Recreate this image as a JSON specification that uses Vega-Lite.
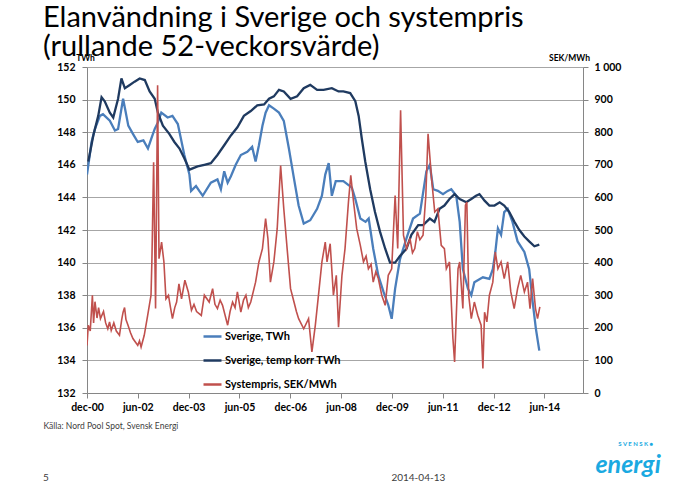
{
  "$schema": "https://vega.github.io/schema/vega-lite/v6.json",
  "autosize": "none",
  "width": 496,
  "height": 326,
  "padding": {"left": 87, "top": 67, "right": 117, "bottom": 102},
  "background": "white",
  "config": {
    "font": "Lato",
    "view": {"stroke": null},
    "axis": {"labelFont": "Lato", "labelFontWeight": "bold", "labelFontSize": 10.5, "labelColor": "#000000", "domainColor": "#868686", "tickColor": "#868686", "tickSize": 5, "gridColor": "#a6a6a6", "titleFont": "Lato", "titleFontWeight": "bold", "titleColor": "#000000", "labelOverlap": false},
    "legend": {"labelFont": "Lato", "labelFontWeight": "bold", "labelFontSize": 11, "labelColor": "#000000"}
  },
  "title": {
    "text": ["Elanvändning i Sverige och systempris", "(rullande 52-veckorsvärde)"],
    "anchor": "start",
    "frame": "group",
    "dx": -44,
    "dy": 13,
    "fontSize": 29,
    "font": "Lato",
    "fontWeight": "normal",
    "lineHeight": 29.5,
    "color": "#000000",
    "offset": 4
  },
  "datasets": {
    "twh": [
      {"date": "2000-12-01", "series": "Sverige, TWh", "value": 145.4},
      {"date": "2001-01-19", "series": "Sverige, TWh", "value": 147.4},
      {"date": "2001-02-25", "series": "Sverige, TWh", "value": 148.2},
      {"date": "2001-04-19", "series": "Sverige, TWh", "value": 149.0},
      {"date": "2001-05-22", "series": "Sverige, TWh", "value": 149.1},
      {"date": "2001-08-04", "series": "Sverige, TWh", "value": 148.7},
      {"date": "2001-09-28", "series": "Sverige, TWh", "value": 148.1},
      {"date": "2001-11-01", "series": "Sverige, TWh", "value": 148.2},
      {"date": "2001-12-25", "series": "Sverige, TWh", "value": 150.05},
      {"date": "2002-01-13", "series": "Sverige, TWh", "value": 149.5},
      {"date": "2002-02-19", "series": "Sverige, TWh", "value": 148.4},
      {"date": "2002-04-10", "series": "Sverige, TWh", "value": 147.9},
      {"date": "2002-06-01", "series": "Sverige, TWh", "value": 147.4},
      {"date": "2002-08-01", "series": "Sverige, TWh", "value": 147.5},
      {"date": "2002-09-19", "series": "Sverige, TWh", "value": 147.0},
      {"date": "2002-10-25", "series": "Sverige, TWh", "value": 147.6},
      {"date": "2002-12-01", "series": "Sverige, TWh", "value": 148.2},
      {"date": "2003-01-04", "series": "Sverige, TWh", "value": 148.6},
      {"date": "2003-02-10", "series": "Sverige, TWh", "value": 149.2},
      {"date": "2003-04-19", "series": "Sverige, TWh", "value": 148.9},
      {"date": "2003-06-10", "series": "Sverige, TWh", "value": 149.0},
      {"date": "2003-08-07", "series": "Sverige, TWh", "value": 148.5},
      {"date": "2003-10-16", "series": "Sverige, TWh", "value": 146.6},
      {"date": "2003-12-10", "series": "Sverige, TWh", "value": 145.4},
      {"date": "2003-12-28", "series": "Sverige, TWh", "value": 144.4},
      {"date": "2004-02-19", "series": "Sverige, TWh", "value": 144.7},
      {"date": "2004-03-25", "series": "Sverige, TWh", "value": 144.4},
      {"date": "2004-05-01", "series": "Sverige, TWh", "value": 144.1},
      {"date": "2004-07-28", "series": "Sverige, TWh", "value": 144.9},
      {"date": "2004-10-07", "series": "Sverige, TWh", "value": 145.1},
      {"date": "2004-11-13", "series": "Sverige, TWh", "value": 144.5},
      {"date": "2004-12-19", "series": "Sverige, TWh", "value": 145.6},
      {"date": "2005-01-25", "series": "Sverige, TWh", "value": 144.9},
      {"date": "2005-03-01", "series": "Sverige, TWh", "value": 145.3},
      {"date": "2005-04-22", "series": "Sverige, TWh", "value": 146.0},
      {"date": "2005-06-16", "series": "Sverige, TWh", "value": 146.6},
      {"date": "2005-08-25", "series": "Sverige, TWh", "value": 146.8},
      {"date": "2005-10-16", "series": "Sverige, TWh", "value": 147.1},
      {"date": "2005-11-22", "series": "Sverige, TWh", "value": 146.2},
      {"date": "2005-12-28", "series": "Sverige, TWh", "value": 147.2},
      {"date": "2006-02-04", "series": "Sverige, TWh", "value": 148.4},
      {"date": "2006-03-10", "series": "Sverige, TWh", "value": 149.2},
      {"date": "2006-04-16", "series": "Sverige, TWh", "value": 149.65},
      {"date": "2006-06-07", "series": "Sverige, TWh", "value": 149.45},
      {"date": "2006-08-01", "series": "Sverige, TWh", "value": 149.2},
      {"date": "2006-09-22", "series": "Sverige, TWh", "value": 148.7},
      {"date": "2006-11-16", "series": "Sverige, TWh", "value": 147.0},
      {"date": "2007-01-10", "series": "Sverige, TWh", "value": 145.15},
      {"date": "2007-03-01", "series": "Sverige, TWh", "value": 143.5},
      {"date": "2007-04-25", "series": "Sverige, TWh", "value": 142.4},
      {"date": "2007-07-04", "series": "Sverige, TWh", "value": 142.6},
      {"date": "2007-09-16", "series": "Sverige, TWh", "value": 143.3},
      {"date": "2007-11-07", "series": "Sverige, TWh", "value": 144.1},
      {"date": "2007-12-13", "series": "Sverige, TWh", "value": 145.4},
      {"date": "2008-01-19", "series": "Sverige, TWh", "value": 146.1},
      {"date": "2008-02-22", "series": "Sverige, TWh", "value": 144.1},
      {"date": "2008-04-04", "series": "Sverige, TWh", "value": 145.0},
      {"date": "2008-06-25", "series": "Sverige, TWh", "value": 145.0},
      {"date": "2008-09-25", "series": "Sverige, TWh", "value": 144.6},
      {"date": "2008-11-01", "series": "Sverige, TWh", "value": 143.9},
      {"date": "2008-12-25", "series": "Sverige, TWh", "value": 142.7},
      {"date": "2009-02-19", "series": "Sverige, TWh", "value": 142.5},
      {"date": "2009-03-25", "series": "Sverige, TWh", "value": 142.7},
      {"date": "2009-05-13", "series": "Sverige, TWh", "value": 140.85},
      {"date": "2009-07-07", "series": "Sverige, TWh", "value": 139.2},
      {"date": "2009-09-01", "series": "Sverige, TWh", "value": 138.2},
      {"date": "2009-10-22", "series": "Sverige, TWh", "value": 137.4},
      {"date": "2009-11-28", "series": "Sverige, TWh", "value": 136.55},
      {"date": "2010-01-04", "series": "Sverige, TWh", "value": 138.4},
      {"date": "2010-02-25", "series": "Sverige, TWh", "value": 140.2},
      {"date": "2010-05-07", "series": "Sverige, TWh", "value": 141.5},
      {"date": "2010-07-16", "series": "Sverige, TWh", "value": 142.7},
      {"date": "2010-09-28", "series": "Sverige, TWh", "value": 143.0},
      {"date": "2010-12-07", "series": "Sverige, TWh", "value": 145.6},
      {"date": "2011-01-13", "series": "Sverige, TWh", "value": 146.0},
      {"date": "2011-02-19", "series": "Sverige, TWh", "value": 144.5},
      {"date": "2011-04-10", "series": "Sverige, TWh", "value": 144.4},
      {"date": "2011-06-04", "series": "Sverige, TWh", "value": 144.2},
      {"date": "2011-07-25", "series": "Sverige, TWh", "value": 144.4},
      {"date": "2011-09-01", "series": "Sverige, TWh", "value": 144.5},
      {"date": "2011-10-25", "series": "Sverige, TWh", "value": 144.1},
      {"date": "2011-12-01", "series": "Sverige, TWh", "value": 142.5},
      {"date": "2012-01-04", "series": "Sverige, TWh", "value": 139.6},
      {"date": "2012-02-28", "series": "Sverige, TWh", "value": 138.4},
      {"date": "2012-04-04", "series": "Sverige, TWh", "value": 138.0},
      {"date": "2012-05-07", "series": "Sverige, TWh", "value": 138.8},
      {"date": "2012-08-07", "series": "Sverige, TWh", "value": 139.1},
      {"date": "2012-10-16", "series": "Sverige, TWh", "value": 139.0},
      {"date": "2012-11-22", "series": "Sverige, TWh", "value": 139.6},
      {"date": "2012-12-19", "series": "Sverige, TWh", "value": 140.65},
      {"date": "2013-01-16", "series": "Sverige, TWh", "value": 142.1},
      {"date": "2013-02-19", "series": "Sverige, TWh", "value": 141.7},
      {"date": "2013-03-25", "series": "Sverige, TWh", "value": 143.1},
      {"date": "2013-05-01", "series": "Sverige, TWh", "value": 143.3},
      {"date": "2013-06-22", "series": "Sverige, TWh", "value": 142.5},
      {"date": "2013-08-16", "series": "Sverige, TWh", "value": 141.3},
      {"date": "2013-10-28", "series": "Sverige, TWh", "value": 140.65},
      {"date": "2013-12-19", "series": "Sverige, TWh", "value": 139.6},
      {"date": "2014-01-25", "series": "Sverige, TWh", "value": 137.6},
      {"date": "2014-03-01", "series": "Sverige, TWh", "value": 135.95},
      {"date": "2014-04-07", "series": "Sverige, TWh", "value": 134.6},

      {"date": "2000-12-15", "series": "Sverige, temp korr TWh", "value": 146.2},
      {"date": "2001-02-07", "series": "Sverige, temp korr TWh", "value": 147.8},
      {"date": "2001-04-01", "series": "Sverige, temp korr TWh", "value": 149.0},
      {"date": "2001-05-07", "series": "Sverige, temp korr TWh", "value": 150.15},
      {"date": "2001-06-10", "series": "Sverige, temp korr TWh", "value": 149.9},
      {"date": "2001-08-04", "series": "Sverige, temp korr TWh", "value": 149.2},
      {"date": "2001-09-10", "series": "Sverige, temp korr TWh", "value": 148.9},
      {"date": "2001-11-01", "series": "Sverige, temp korr TWh", "value": 150.05},
      {"date": "2001-12-07", "series": "Sverige, temp korr TWh", "value": 151.3},
      {"date": "2002-01-13", "series": "Sverige, temp korr TWh", "value": 150.7},
      {"date": "2002-03-07", "series": "Sverige, temp korr TWh", "value": 150.9},
      {"date": "2002-04-28", "series": "Sverige, temp korr TWh", "value": 151.1},
      {"date": "2002-06-22", "series": "Sverige, temp korr TWh", "value": 151.3},
      {"date": "2002-08-16", "series": "Sverige, temp korr TWh", "value": 151.2},
      {"date": "2002-10-07", "series": "Sverige, temp korr TWh", "value": 150.5},
      {"date": "2002-12-01", "series": "Sverige, temp korr TWh", "value": 150.05},
      {"date": "2003-01-04", "series": "Sverige, temp korr TWh", "value": 149.2},
      {"date": "2003-02-27", "series": "Sverige, temp korr TWh", "value": 148.4},
      {"date": "2003-05-07", "series": "Sverige, temp korr TWh", "value": 147.9},
      {"date": "2003-07-01", "series": "Sverige, temp korr TWh", "value": 147.4},
      {"date": "2003-08-25", "series": "Sverige, temp korr TWh", "value": 147.0},
      {"date": "2003-10-16", "series": "Sverige, temp korr TWh", "value": 146.4},
      {"date": "2003-12-10", "series": "Sverige, temp korr TWh", "value": 145.7},
      {"date": "2004-03-07", "series": "Sverige, temp korr TWh", "value": 145.9},
      {"date": "2004-05-19", "series": "Sverige, temp korr TWh", "value": 146.0},
      {"date": "2004-07-28", "series": "Sverige, temp korr TWh", "value": 146.1},
      {"date": "2004-10-07", "series": "Sverige, temp korr TWh", "value": 146.6},
      {"date": "2004-12-19", "series": "Sverige, temp korr TWh", "value": 147.2},
      {"date": "2005-03-01", "series": "Sverige, temp korr TWh", "value": 147.8},
      {"date": "2005-05-10", "series": "Sverige, temp korr TWh", "value": 148.3},
      {"date": "2005-07-19", "series": "Sverige, temp korr TWh", "value": 149.0},
      {"date": "2005-10-01", "series": "Sverige, temp korr TWh", "value": 149.3},
      {"date": "2005-12-10", "series": "Sverige, temp korr TWh", "value": 149.65},
      {"date": "2006-02-22", "series": "Sverige, temp korr TWh", "value": 149.7},
      {"date": "2006-04-16", "series": "Sverige, temp korr TWh", "value": 150.05},
      {"date": "2006-06-07", "series": "Sverige, temp korr TWh", "value": 150.2},
      {"date": "2006-08-01", "series": "Sverige, temp korr TWh", "value": 150.6},
      {"date": "2006-09-22", "series": "Sverige, temp korr TWh", "value": 150.5},
      {"date": "2006-12-04", "series": "Sverige, temp korr TWh", "value": 150.05},
      {"date": "2007-02-13", "series": "Sverige, temp korr TWh", "value": 150.2},
      {"date": "2007-04-25", "series": "Sverige, temp korr TWh", "value": 150.7},
      {"date": "2007-07-04", "series": "Sverige, temp korr TWh", "value": 150.9},
      {"date": "2007-09-16", "series": "Sverige, temp korr TWh", "value": 150.6},
      {"date": "2007-11-25", "series": "Sverige, temp korr TWh", "value": 150.6},
      {"date": "2008-02-22", "series": "Sverige, temp korr TWh", "value": 150.7},
      {"date": "2008-05-04", "series": "Sverige, temp korr TWh", "value": 150.5},
      {"date": "2008-06-25", "series": "Sverige, temp korr TWh", "value": 150.5},
      {"date": "2008-09-07", "series": "Sverige, temp korr TWh", "value": 150.4},
      {"date": "2008-11-01", "series": "Sverige, temp korr TWh", "value": 149.9},
      {"date": "2008-12-07", "series": "Sverige, temp korr TWh", "value": 149.0},
      {"date": "2009-01-10", "series": "Sverige, temp korr TWh", "value": 147.6},
      {"date": "2009-02-16", "series": "Sverige, temp korr TWh", "value": 146.2},
      {"date": "2009-04-10", "series": "Sverige, temp korr TWh", "value": 144.5},
      {"date": "2009-06-01", "series": "Sverige, temp korr TWh", "value": 143.1},
      {"date": "2009-07-25", "series": "Sverige, temp korr TWh", "value": 141.9},
      {"date": "2009-09-19", "series": "Sverige, temp korr TWh", "value": 140.85},
      {"date": "2009-11-10", "series": "Sverige, temp korr TWh", "value": 140.0},
      {"date": "2010-01-04", "series": "Sverige, temp korr TWh", "value": 140.0},
      {"date": "2010-02-25", "series": "Sverige, temp korr TWh", "value": 140.4},
      {"date": "2010-05-07", "series": "Sverige, temp korr TWh", "value": 140.85},
      {"date": "2010-06-28", "series": "Sverige, temp korr TWh", "value": 141.7},
      {"date": "2010-09-10", "series": "Sverige, temp korr TWh", "value": 142.3},
      {"date": "2010-11-01", "series": "Sverige, temp korr TWh", "value": 142.3},
      {"date": "2011-01-13", "series": "Sverige, temp korr TWh", "value": 142.7},
      {"date": "2011-03-04", "series": "Sverige, temp korr TWh", "value": 142.5},
      {"date": "2011-04-28", "series": "Sverige, temp korr TWh", "value": 143.3},
      {"date": "2011-06-19", "series": "Sverige, temp korr TWh", "value": 143.5},
      {"date": "2011-08-13", "series": "Sverige, temp korr TWh", "value": 143.9},
      {"date": "2011-10-07", "series": "Sverige, temp korr TWh", "value": 144.2},
      {"date": "2011-12-01", "series": "Sverige, temp korr TWh", "value": 143.9},
      {"date": "2012-02-10", "series": "Sverige, temp korr TWh", "value": 143.7},
      {"date": "2012-04-04", "series": "Sverige, temp korr TWh", "value": 143.9},
      {"date": "2012-05-25", "series": "Sverige, temp korr TWh", "value": 144.1},
      {"date": "2012-07-01", "series": "Sverige, temp korr TWh", "value": 144.2},
      {"date": "2012-08-25", "series": "Sverige, temp korr TWh", "value": 143.8},
      {"date": "2012-10-16", "series": "Sverige, temp korr TWh", "value": 143.5},
      {"date": "2012-12-10", "series": "Sverige, temp korr TWh", "value": 143.5},
      {"date": "2013-02-04", "series": "Sverige, temp korr TWh", "value": 143.7},
      {"date": "2013-03-25", "series": "Sverige, temp korr TWh", "value": 143.5},
      {"date": "2013-05-19", "series": "Sverige, temp korr TWh", "value": 143.1},
      {"date": "2013-07-13", "series": "Sverige, temp korr TWh", "value": 142.5},
      {"date": "2013-09-04", "series": "Sverige, temp korr TWh", "value": 142.0},
      {"date": "2013-10-28", "series": "Sverige, temp korr TWh", "value": 141.6},
      {"date": "2013-12-19", "series": "Sverige, temp korr TWh", "value": 141.3},
      {"date": "2014-02-13", "series": "Sverige, temp korr TWh", "value": 141.0},
      {"date": "2014-04-07", "series": "Sverige, temp korr TWh", "value": 141.1}
    ],
    "pris": [
      {"date": "2000-12-01", "series": "Systempris, SEK/MWh", "value": 146},
      {"date": "2000-12-15", "series": "Systempris, SEK/MWh", "value": 208},
      {"date": "2001-01-05", "series": "Systempris, SEK/MWh", "value": 190},
      {"date": "2001-01-28", "series": "Systempris, SEK/MWh", "value": 300},
      {"date": "2001-02-10", "series": "Systempris, SEK/MWh", "value": 215},
      {"date": "2001-02-25", "series": "Systempris, SEK/MWh", "value": 280},
      {"date": "2001-03-19", "series": "Systempris, SEK/MWh", "value": 230},
      {"date": "2001-04-05", "series": "Systempris, SEK/MWh", "value": 262},
      {"date": "2001-04-25", "series": "Systempris, SEK/MWh", "value": 228},
      {"date": "2001-05-28", "series": "Systempris, SEK/MWh", "value": 250},
      {"date": "2001-06-20", "series": "Systempris, SEK/MWh", "value": 215},
      {"date": "2001-07-13", "series": "Systempris, SEK/MWh", "value": 197},
      {"date": "2001-08-01", "series": "Systempris, SEK/MWh", "value": 218},
      {"date": "2001-08-19", "series": "Systempris, SEK/MWh", "value": 192},
      {"date": "2001-09-16", "series": "Systempris, SEK/MWh", "value": 215},
      {"date": "2001-10-13", "series": "Systempris, SEK/MWh", "value": 190},
      {"date": "2001-11-16", "series": "Systempris, SEK/MWh", "value": 177},
      {"date": "2001-12-10", "series": "Systempris, SEK/MWh", "value": 225},
      {"date": "2001-12-25", "series": "Systempris, SEK/MWh", "value": 248},
      {"date": "2002-01-10", "series": "Systempris, SEK/MWh", "value": 262},
      {"date": "2002-01-25", "series": "Systempris, SEK/MWh", "value": 225},
      {"date": "2002-02-16", "series": "Systempris, SEK/MWh", "value": 208},
      {"date": "2002-03-15", "series": "Systempris, SEK/MWh", "value": 185},
      {"date": "2002-04-10", "series": "Systempris, SEK/MWh", "value": 167},
      {"date": "2002-05-10", "series": "Systempris, SEK/MWh", "value": 155},
      {"date": "2002-06-01", "series": "Systempris, SEK/MWh", "value": 146},
      {"date": "2002-06-20", "series": "Systempris, SEK/MWh", "value": 160},
      {"date": "2002-07-07", "series": "Systempris, SEK/MWh", "value": 141},
      {"date": "2002-08-10", "series": "Systempris, SEK/MWh", "value": 177},
      {"date": "2002-09-16", "series": "Systempris, SEK/MWh", "value": 238},
      {"date": "2002-10-22", "series": "Systempris, SEK/MWh", "value": 300},
      {"date": "2002-11-01", "series": "Systempris, SEK/MWh", "value": 412},
      {"date": "2002-11-19", "series": "Systempris, SEK/MWh", "value": 708},
      {"date": "2002-12-10", "series": "Systempris, SEK/MWh", "value": 259},
      {"date": "2003-01-01", "series": "Systempris, SEK/MWh", "value": 944},
      {"date": "2003-01-16", "series": "Systempris, SEK/MWh", "value": 412},
      {"date": "2003-02-13", "series": "Systempris, SEK/MWh", "value": 463},
      {"date": "2003-03-10", "series": "Systempris, SEK/MWh", "value": 402},
      {"date": "2003-04-01", "series": "Systempris, SEK/MWh", "value": 289},
      {"date": "2003-04-28", "series": "Systempris, SEK/MWh", "value": 300},
      {"date": "2003-05-20", "series": "Systempris, SEK/MWh", "value": 262},
      {"date": "2003-06-10", "series": "Systempris, SEK/MWh", "value": 228},
      {"date": "2003-07-05", "series": "Systempris, SEK/MWh", "value": 262},
      {"date": "2003-07-25", "series": "Systempris, SEK/MWh", "value": 279},
      {"date": "2003-08-19", "series": "Systempris, SEK/MWh", "value": 335},
      {"date": "2003-09-16", "series": "Systempris, SEK/MWh", "value": 289},
      {"date": "2003-10-22", "series": "Systempris, SEK/MWh", "value": 346},
      {"date": "2003-11-28", "series": "Systempris, SEK/MWh", "value": 310},
      {"date": "2004-01-01", "series": "Systempris, SEK/MWh", "value": 254},
      {"date": "2004-01-28", "series": "Systempris, SEK/MWh", "value": 272},
      {"date": "2004-02-25", "series": "Systempris, SEK/MWh", "value": 250},
      {"date": "2004-04-16", "series": "Systempris, SEK/MWh", "value": 238},
      {"date": "2004-05-19", "series": "Systempris, SEK/MWh", "value": 300},
      {"date": "2004-07-10", "series": "Systempris, SEK/MWh", "value": 279},
      {"date": "2004-08-16", "series": "Systempris, SEK/MWh", "value": 320},
      {"date": "2004-09-10", "series": "Systempris, SEK/MWh", "value": 272},
      {"date": "2004-10-07", "series": "Systempris, SEK/MWh", "value": 259},
      {"date": "2004-11-05", "series": "Systempris, SEK/MWh", "value": 285},
      {"date": "2004-12-01", "series": "Systempris, SEK/MWh", "value": 269},
      {"date": "2005-01-25", "series": "Systempris, SEK/MWh", "value": 208},
      {"date": "2005-02-20", "series": "Systempris, SEK/MWh", "value": 250},
      {"date": "2005-03-19", "series": "Systempris, SEK/MWh", "value": 279},
      {"date": "2005-04-15", "series": "Systempris, SEK/MWh", "value": 262},
      {"date": "2005-05-10", "series": "Systempris, SEK/MWh", "value": 310},
      {"date": "2005-06-16", "series": "Systempris, SEK/MWh", "value": 248},
      {"date": "2005-07-15", "series": "Systempris, SEK/MWh", "value": 285},
      {"date": "2005-08-10", "series": "Systempris, SEK/MWh", "value": 300},
      {"date": "2005-09-05", "series": "Systempris, SEK/MWh", "value": 262},
      {"date": "2005-10-01", "series": "Systempris, SEK/MWh", "value": 279},
      {"date": "2005-11-22", "series": "Systempris, SEK/MWh", "value": 340},
      {"date": "2005-12-28", "series": "Systempris, SEK/MWh", "value": 402},
      {"date": "2006-02-04", "series": "Systempris, SEK/MWh", "value": 443},
      {"date": "2006-03-10", "series": "Systempris, SEK/MWh", "value": 535},
      {"date": "2006-04-04", "series": "Systempris, SEK/MWh", "value": 474},
      {"date": "2006-05-01", "series": "Systempris, SEK/MWh", "value": 340},
      {"date": "2006-06-07", "series": "Systempris, SEK/MWh", "value": 402},
      {"date": "2006-07-13", "series": "Systempris, SEK/MWh", "value": 504},
      {"date": "2006-08-19", "series": "Systempris, SEK/MWh", "value": 698},
      {"date": "2006-09-22", "series": "Systempris, SEK/MWh", "value": 565},
      {"date": "2006-10-28", "series": "Systempris, SEK/MWh", "value": 443},
      {"date": "2006-12-04", "series": "Systempris, SEK/MWh", "value": 320},
      {"date": "2007-01-10", "series": "Systempris, SEK/MWh", "value": 279},
      {"date": "2007-02-05", "series": "Systempris, SEK/MWh", "value": 250},
      {"date": "2007-03-01", "series": "Systempris, SEK/MWh", "value": 228},
      {"date": "2007-04-25", "series": "Systempris, SEK/MWh", "value": 197},
      {"date": "2007-06-16", "series": "Systempris, SEK/MWh", "value": 228},
      {"date": "2007-07-22", "series": "Systempris, SEK/MWh", "value": 126},
      {"date": "2007-08-28", "series": "Systempris, SEK/MWh", "value": 208},
      {"date": "2007-10-01", "series": "Systempris, SEK/MWh", "value": 300},
      {"date": "2007-11-07", "series": "Systempris, SEK/MWh", "value": 402},
      {"date": "2007-12-13", "series": "Systempris, SEK/MWh", "value": 463},
      {"date": "2008-01-01", "series": "Systempris, SEK/MWh", "value": 402},
      {"date": "2008-02-04", "series": "Systempris, SEK/MWh", "value": 458},
      {"date": "2008-03-10", "series": "Systempris, SEK/MWh", "value": 300},
      {"date": "2008-04-10", "series": "Systempris, SEK/MWh", "value": 361},
      {"date": "2008-05-04", "series": "Systempris, SEK/MWh", "value": 202},
      {"date": "2008-06-10", "series": "Systempris, SEK/MWh", "value": 361},
      {"date": "2008-07-13", "series": "Systempris, SEK/MWh", "value": 443},
      {"date": "2008-08-19", "series": "Systempris, SEK/MWh", "value": 586},
      {"date": "2008-09-13", "series": "Systempris, SEK/MWh", "value": 668},
      {"date": "2008-10-13", "series": "Systempris, SEK/MWh", "value": 586},
      {"date": "2008-11-16", "series": "Systempris, SEK/MWh", "value": 504},
      {"date": "2008-12-25", "series": "Systempris, SEK/MWh", "value": 453},
      {"date": "2009-01-28", "series": "Systempris, SEK/MWh", "value": 402},
      {"date": "2009-02-25", "series": "Systempris, SEK/MWh", "value": 420},
      {"date": "2009-03-22", "series": "Systempris, SEK/MWh", "value": 381},
      {"date": "2009-04-20", "series": "Systempris, SEK/MWh", "value": 395},
      {"date": "2009-05-13", "series": "Systempris, SEK/MWh", "value": 340},
      {"date": "2009-06-10", "series": "Systempris, SEK/MWh", "value": 372},
      {"date": "2009-07-07", "series": "Systempris, SEK/MWh", "value": 351},
      {"date": "2009-08-13", "series": "Systempris, SEK/MWh", "value": 300},
      {"date": "2009-09-19", "series": "Systempris, SEK/MWh", "value": 269},
      {"date": "2009-10-22", "series": "Systempris, SEK/MWh", "value": 361},
      {"date": "2009-11-28", "series": "Systempris, SEK/MWh", "value": 381},
      {"date": "2010-01-04", "series": "Systempris, SEK/MWh", "value": 606},
      {"date": "2010-02-01", "series": "Systempris, SEK/MWh", "value": 443},
      {"date": "2010-03-04", "series": "Systempris, SEK/MWh", "value": 867},
      {"date": "2010-04-04", "series": "Systempris, SEK/MWh", "value": 484},
      {"date": "2010-05-07", "series": "Systempris, SEK/MWh", "value": 443},
      {"date": "2010-06-13", "series": "Systempris, SEK/MWh", "value": 474},
      {"date": "2010-07-10", "series": "Systempris, SEK/MWh", "value": 430},
      {"date": "2010-08-04", "series": "Systempris, SEK/MWh", "value": 443},
      {"date": "2010-09-01", "series": "Systempris, SEK/MWh", "value": 495},
      {"date": "2010-09-28", "series": "Systempris, SEK/MWh", "value": 470},
      {"date": "2010-11-01", "series": "Systempris, SEK/MWh", "value": 484},
      {"date": "2010-12-01", "series": "Systempris, SEK/MWh", "value": 606},
      {"date": "2010-12-25", "series": "Systempris, SEK/MWh", "value": 795},
      {"date": "2011-02-01", "series": "Systempris, SEK/MWh", "value": 657},
      {"date": "2011-03-07", "series": "Systempris, SEK/MWh", "value": 555},
      {"date": "2011-04-10", "series": "Systempris, SEK/MWh", "value": 565},
      {"date": "2011-05-16", "series": "Systempris, SEK/MWh", "value": 453},
      {"date": "2011-06-19", "series": "Systempris, SEK/MWh", "value": 443},
      {"date": "2011-07-10", "series": "Systempris, SEK/MWh", "value": 381},
      {"date": "2011-08-13", "series": "Systempris, SEK/MWh", "value": 402},
      {"date": "2011-09-19", "series": "Systempris, SEK/MWh", "value": 167},
      {"date": "2011-10-07", "series": "Systempris, SEK/MWh", "value": 95},
      {"date": "2011-11-13", "series": "Systempris, SEK/MWh", "value": 381},
      {"date": "2011-12-01", "series": "Systempris, SEK/MWh", "value": 402},
      {"date": "2012-01-04", "series": "Systempris, SEK/MWh", "value": 259},
      {"date": "2012-02-01", "series": "Systempris, SEK/MWh", "value": 576},
      {"date": "2012-02-16", "series": "Systempris, SEK/MWh", "value": 586},
      {"date": "2012-03-07", "series": "Systempris, SEK/MWh", "value": 300},
      {"date": "2012-04-04", "series": "Systempris, SEK/MWh", "value": 228},
      {"date": "2012-05-07", "series": "Systempris, SEK/MWh", "value": 279},
      {"date": "2012-06-13", "series": "Systempris, SEK/MWh", "value": 238},
      {"date": "2012-07-19", "series": "Systempris, SEK/MWh", "value": 208},
      {"date": "2012-08-07", "series": "Systempris, SEK/MWh", "value": 75},
      {"date": "2012-08-25", "series": "Systempris, SEK/MWh", "value": 248},
      {"date": "2012-09-19", "series": "Systempris, SEK/MWh", "value": 218},
      {"date": "2012-10-16", "series": "Systempris, SEK/MWh", "value": 300},
      {"date": "2012-11-22", "series": "Systempris, SEK/MWh", "value": 340},
      {"date": "2012-12-19", "series": "Systempris, SEK/MWh", "value": 432},
      {"date": "2013-01-16", "series": "Systempris, SEK/MWh", "value": 381},
      {"date": "2013-02-19", "series": "Systempris, SEK/MWh", "value": 402},
      {"date": "2013-03-25", "series": "Systempris, SEK/MWh", "value": 351},
      {"date": "2013-05-01", "series": "Systempris, SEK/MWh", "value": 402},
      {"date": "2013-06-04", "series": "Systempris, SEK/MWh", "value": 310},
      {"date": "2013-07-10", "series": "Systempris, SEK/MWh", "value": 259},
      {"date": "2013-08-16", "series": "Systempris, SEK/MWh", "value": 320},
      {"date": "2013-09-19", "series": "Systempris, SEK/MWh", "value": 361},
      {"date": "2013-10-28", "series": "Systempris, SEK/MWh", "value": 310},
      {"date": "2013-12-01", "series": "Systempris, SEK/MWh", "value": 340},
      {"date": "2013-12-28", "series": "Systempris, SEK/MWh", "value": 259},
      {"date": "2014-01-25", "series": "Systempris, SEK/MWh", "value": 351},
      {"date": "2014-02-25", "series": "Systempris, SEK/MWh", "value": 259},
      {"date": "2014-03-19", "series": "Systempris, SEK/MWh", "value": 228},
      {"date": "2014-04-13", "series": "Systempris, SEK/MWh", "value": 264}
    ]
  },
  "layer": [
    {
      "data": {"name": "twh"},
      "mark": {"type": "line", "strokeWidth": 2.3, "clip": true},
      "encoding": {
        "x": {
          "field": "date",
          "type": "temporal",
          "scale": {"domain": [{"year": 2000, "month": 12, "date": 1}, {"year": 2015, "month": 7, "date": 22}]},
          "axis": {
            "values": [
              {"year": 2000, "month": 12, "date": 1},
              {"year": 2002, "month": 6, "date": 1},
              {"year": 2003, "month": 12, "date": 1},
              {"year": 2005, "month": 6, "date": 1},
              {"year": 2006, "month": 12, "date": 1},
              {"year": 2008, "month": 6, "date": 1},
              {"year": 2009, "month": 12, "date": 1},
              {"year": 2011, "month": 6, "date": 1},
              {"year": 2012, "month": 12, "date": 1},
              {"year": 2014, "month": 6, "date": 1}
            ],
            "labelExpr": "lower(timeFormat(datum.value, '%b-%y'))",
            "labelPadding": 4,
            "labelFlush": false,
            "grid": false,
            "title": "Källa: Nord Pool Spot, Svensk Energi",
            "titleFont": "Lato",
            "titleFontWeight": "normal",
            "titleFontSize": 8.5,
            "titleColor": "#404040",
            "titleAnchor": "start",
            "titleAlign": "left",
            "titleBaseline": "middle",
            "titleX": -44,
            "titleY": 32
          }
        },
        "y": {
          "field": "value",
          "type": "quantitative",
          "scale": {"domain": [132, 152], "zero": false, "nice": false},
          "axis": {
            "values": [132, 134, 136, 138, 140, 142, 144, 146, 148, 150, 152],
            "grid": true,
            "labelOverlap": false,
            "labelPadding": 7,
            "title": "TWh",
            "titleAngle": 0,
            "titleFontSize": 8.5,
            "titleAlign": "center",
            "titleBaseline": "middle",
            "titleX": -2,
            "titleY": -10
          }
        },
        "color": {
          "field": "series",
          "type": "nominal",
          "scale": {"domain": ["Sverige, TWh", "Sverige, temp korr TWh", "Systempris, SEK/MWh"], "range": ["#4a7ebb", "#1f3a60", "#c0504d"]},
          "legend": {
            "title": null,
            "orient": "none",
            "legendX": 115,
            "legendY": 259,
            "symbolType": "stroke",
            "symbolSize": 324,
            "symbolStrokeWidth": 2.5,
            "rowPadding": 8,
            "labelOffset": 2,
            "padding": 0
          }
        }
      }
    },
    {
      "data": {"name": "pris"},
      "mark": {"type": "line", "strokeWidth": 1.6, "clip": true},
      "encoding": {
        "x": {"field": "date", "type": "temporal"},
        "y": {
          "field": "value",
          "type": "quantitative",
          "scale": {"domain": [0, 1000], "nice": false},
          "axis": {
            "orient": "right",
            "values": [0, 100, 200, 300, 400, 500, 600, 700, 800, 900, 1000],
            "grid": false,
            "labelOverlap": false,
            "labelPadding": 6,
            "labelExpr": "datum.value == 1000 ? '1 000' : datum.label",
            "title": "SEK/MWh",
            "titleAngle": 0,
            "titleFontSize": 8.5,
            "titleAlign": "center",
            "titleBaseline": "middle",
            "titleX": -14,
            "titleY": -10
          }
        },
        "color": {"field": "series", "type": "nominal"}
      }
    },
    {
      "data": {"values": [{"t": "5"}]},
      "mark": {"type": "text", "align": "left", "baseline": "middle", "fontSize": 10, "color": "#404040", "font": "Lato", "clip": false},
      "encoding": {
        "x": {"datum": {"year": 1999, "month": 8, "date": 16}, "type": "temporal"},
        "y": {"datum": 126.8, "type": "quantitative", "scale": {"domain": [132, 152], "nice": false, "zero": false}, "axis": null},
        "text": {"field": "t"}
      }
    },
    {
      "data": {"values": [{"t": "2014-04-13"}]},
      "mark": {"type": "text", "align": "left", "baseline": "middle", "fontSize": 10, "color": "#404040", "font": "Lato", "clip": false},
      "encoding": {
        "x": {"datum": {"year": 2009, "month": 11, "date": 25}, "type": "temporal"},
        "y": {"datum": 126.8, "type": "quantitative", "scale": {"domain": [132, 152], "nice": false, "zero": false}, "axis": null},
        "text": {"field": "t"}
      }
    },
    {
      "data": {"values": [{"t": "S V E N S K ●"}]},
      "mark": {"type": "text", "align": "center", "baseline": "middle", "fontSize": 6, "fontWeight": "bold", "color": "#1aa9e1", "font": "Lato", "clip": false},
      "encoding": {
        "x": {"datum": {"year": 2017, "month": 2, "date": 10}, "type": "temporal"},
        "y": {"datum": 128.9, "type": "quantitative", "scale": {"domain": [132, 152], "nice": false, "zero": false}, "axis": null},
        "text": {"field": "t"}
      }
    },
    {
      "data": {"values": [{"t": "energi"}]},
      "mark": {"type": "text", "align": "center", "baseline": "middle", "fontSize": 25, "fontWeight": "bold", "fontStyle": "italic", "color": "#1aa9e1", "font": "Lato", "clip": false},
      "encoding": {
        "x": {"datum": {"year": 2016, "month": 11, "date": 19}, "type": "temporal"},
        "y": {"datum": 127.6, "type": "quantitative", "scale": {"domain": [132, 152], "nice": false, "zero": false}, "axis": null},
        "text": {"field": "t"}
      }
    }
  ],
  "resolve": {"scale": {"y": "independent"}}
}
